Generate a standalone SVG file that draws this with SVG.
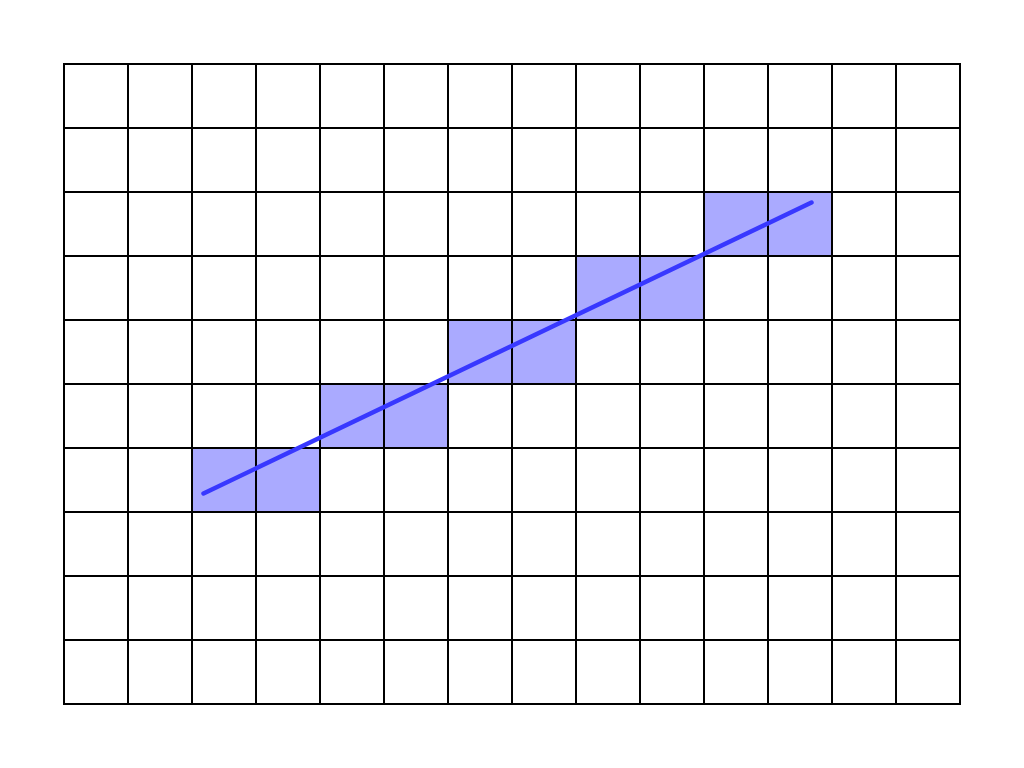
<svg xmlns="http://www.w3.org/2000/svg" width="1024" height="768" viewBox="0 0 1024 768">
<style>
.cell{fill:#aaaaff;stroke:none}
.grid{stroke:#000;stroke-width:2;fill:none;stroke-linecap:square}
.ln{stroke:#3838ff;stroke-width:4.5;stroke-linecap:round;fill:none}
</style>
<rect width="1024" height="768" fill="#fff"/>
<g id="cells">
<rect class="cell" x="704" y="192" width="128" height="64"/>
<rect class="cell" x="576" y="256" width="128" height="64"/>
<rect class="cell" x="448" y="320" width="128" height="64"/>
<rect class="cell" x="320" y="384" width="128" height="64"/>
<rect class="cell" x="192" y="448" width="128" height="64"/>
</g>
<g id="grid" class="grid">
<path d="M64 64H960M64 128H960M64 192H960M64 256H960M64 320H960M64 384H960M64 448H960M64 512H960M64 576H960M64 640H960M64 704H960"/>
<path d="M64 64V704M128 64V704M192 64V704M256 64V704M320 64V704M384 64V704M448 64V704M512 64V704M576 64V704M640 64V704M704 64V704M768 64V704M832 64V704M896 64V704M960 64V704"/>
</g>
<g id="connectors">
<line class="ln" x1="203.5" y1="493.5" x2="811.5" y2="202.5"/>
</g>
</svg>
